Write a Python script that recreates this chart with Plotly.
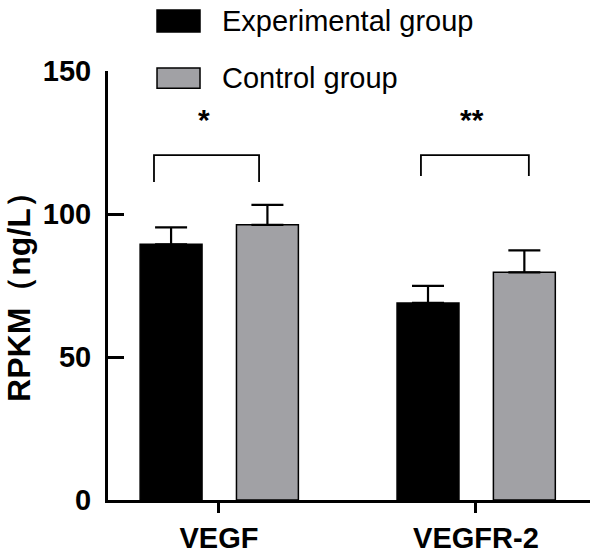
import plotly.graph_objects as go

categories = ["VEGF", "VEGFR-2"]
series_names = ["Experimental group", "Control group"]
exp_means = [89.4, 68.9]
exp_sd = [5.9, 6.0]
ctrl_means = [96.2, 79.6]
ctrl_sd = [7.0, 7.7]
significance = ["*", "**"]
y_ticks = [0, 50, 100, 150]

FONT = "Liberation Sans, Arial, sans-serif"
GRAY = "#a1a1a5"

fig = go.Figure()
bar_w = 0.241
offsets = [-0.307, 0.068]
colors = ["#000000", GRAY]
for name, means, sds, off, col in zip(series_names, [exp_means, ctrl_means], [exp_sd, ctrl_sd], offsets, colors):
    fig.add_trace(go.Bar(
        x=categories, y=means, name=name, width=bar_w, offset=off,
        marker=dict(color=col, line=dict(color="#000000", width=1.5)),
        error_y=dict(type="data", array=sds, arrayminus=[0] * len(sds), symmetric=False,
                     color="#000000", thickness=2.2, width=16),
        showlegend=False,
    ))

# significance brackets
br_left = [-0.253, -0.214]
br_right = [0.156, 0.206]
br_leg = [111.2, 113.3]
br_top = 120.6
for i, sig in enumerate(significance):
    x0, x1 = i + br_left[i], i + br_right[i]
    fig.add_shape(type="path", xref="x", yref="y",
                  path=f"M {x0} {br_leg[i]} L {x0} {br_top} L {x1} {br_top} L {x1} {br_leg[i]}",
                  line=dict(color="#000000", width=1.8))
    fig.add_annotation(x=(x0 + x1) / 2 - 0.01, y=133, xref="x", yref="y", text=sig, showarrow=False,
                       font=dict(family=FONT, size=30, color="#000000", weight="bold"))

# custom legend
leg_y = [(1.1422, 1.0909), (1.007, 0.960)]
for (y1, y0), name, col in zip(leg_y, series_names, colors):
    fig.add_shape(type="rect", xref="paper", yref="paper", x0=0.1017, x1=0.1909, y0=y0, y1=y1,
                  fillcolor=col, line=dict(color="#000000", width=1.5))
    fig.add_annotation(x=0.232, y=(y0 + y1) / 2, xref="paper", yref="paper", text=name,
                       showarrow=False, xanchor="left", yanchor="middle",
                       font=dict(family=FONT, size=29, color="#000000"))

# y title
fig.add_annotation(x=0, y=0.492, xref="paper", yref="paper", xshift=-89, text="<b>RPKM（ng/L）</b>",
                   textangle=-90, showarrow=False, xanchor="center", yanchor="middle",
                   font=dict(family=FONT, size=32, color="#000000"))

fig.update_layout(
    width=600, height=557,
    margin=dict(l=108, r=10, t=71, b=57, autoexpand=False),
    plot_bgcolor="white", paper_bgcolor="white",
    barmode="overlay",
    font=dict(family=FONT, color="#000000"),
    xaxis=dict(type="category", range=[-0.432, 1.444], showline=True, linecolor="#000000", linewidth=3,
               ticks="outside", ticklen=10, tickwidth=3, tickcolor="#000000", automargin=False,
               tickfont=dict(family=FONT, size=29, color="#000000", weight="bold"),
               showgrid=False, zeroline=False, ticklabelstandoff=0),
    yaxis=dict(range=[0, 150], tickvals=y_ticks, showline=True, linecolor="#000000", linewidth=3,
               ticks="inside", ticklen=16, tickwidth=3, tickcolor="#000000", automargin=False,
               tickfont=dict(family=FONT, size=29, color="#000000", weight="bold"),
               showgrid=False, zeroline=False, ticklabelstandoff=8),
)

fig.write_html("out.html", config={"displayModeBar": False},
               post_script="document.body.style.margin='0px';document.body.style.overflow='hidden';")
